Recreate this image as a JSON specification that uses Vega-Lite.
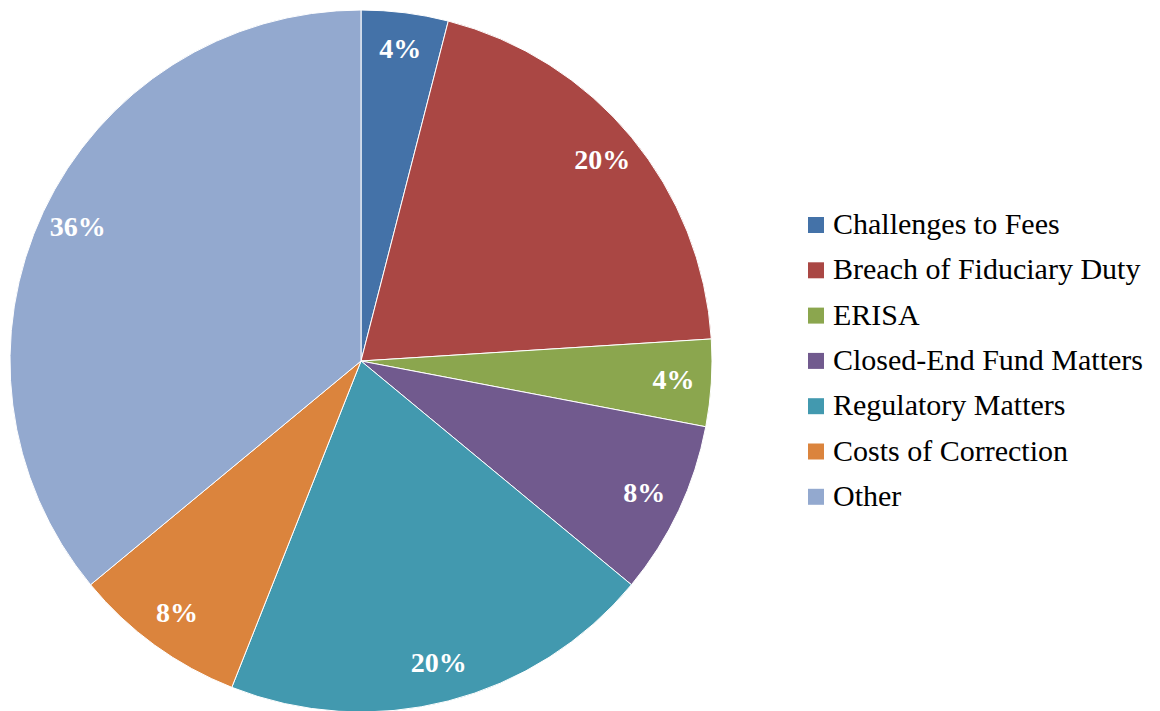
{
  "$schema": "https://vega.github.io/schema/vega-lite/v6.json",
  "width": 722,
  "height": 722,
  "padding": 0,
  "autosize": {"type": "pad"},
  "background": "white",
  "config": {
    "view": {"stroke": null},
    "font": "Liberation Serif",
    "text": {"font": "Liberation Serif"}
  },
  "data": {
    "values": [
      {"category": "Challenges to Fees", "share": 0.04, "order": 1},
      {"category": "Breach of Fiduciary Duty", "share": 0.20, "order": 2},
      {"category": "ERISA", "share": 0.04, "order": 3},
      {"category": "Closed-End Fund Matters", "share": 0.08, "order": 4},
      {"category": "Regulatory Matters", "share": 0.20, "order": 5},
      {"category": "Costs of Correction", "share": 0.08, "order": 6},
      {"category": "Other", "share": 0.36, "order": 7}
    ]
  },
  "encoding": {
    "theta": {"field": "share", "type": "quantitative", "stack": true},
    "order": {"field": "order", "type": "quantitative"},
    "color": {
      "field": "category",
      "type": "nominal",
      "sort": ["Challenges to Fees", "Breach of Fiduciary Duty", "ERISA", "Closed-End Fund Matters", "Regulatory Matters", "Costs of Correction", "Other"],
      "scale": {
        "domain": ["Challenges to Fees", "Breach of Fiduciary Duty", "ERISA", "Closed-End Fund Matters", "Regulatory Matters", "Costs of Correction", "Other"],
        "range": ["#4472A8", "#AA4744", "#8BA64E", "#715A8E", "#4299AF", "#DB843D", "#93A9CF"]
      },
      "legend": {
        "title": null,
        "orient": "none",
        "legendX": 801,
        "legendY": 210,
        "symbolType": "square",
        "symbolSize": 256,
        "symbolStrokeWidth": 0,
        "labelFont": "Liberation Serif",
        "labelFontSize": 30,
        "labelColor": "#000000",
        "labelLimit": 400,
        "rowPadding": 15.3,
        "labelOffset": 2,
        "symbolOffset": 0
      }
    }
  },
  "layer": [
    {
      "mark": {"type": "arc", "outerRadius": 351, "stroke": "white", "strokeWidth": 1}
    },
    {
      "mark": {"type": "text", "radius": 313, "font": "Liberation Serif", "fontSize": 28, "fontWeight": "bold", "fill": "white"},
      "encoding": {
        "text": {"field": "share", "type": "quantitative", "format": ".0%"},
        "color": {"value": "white"}
      }
    }
  ]
}
